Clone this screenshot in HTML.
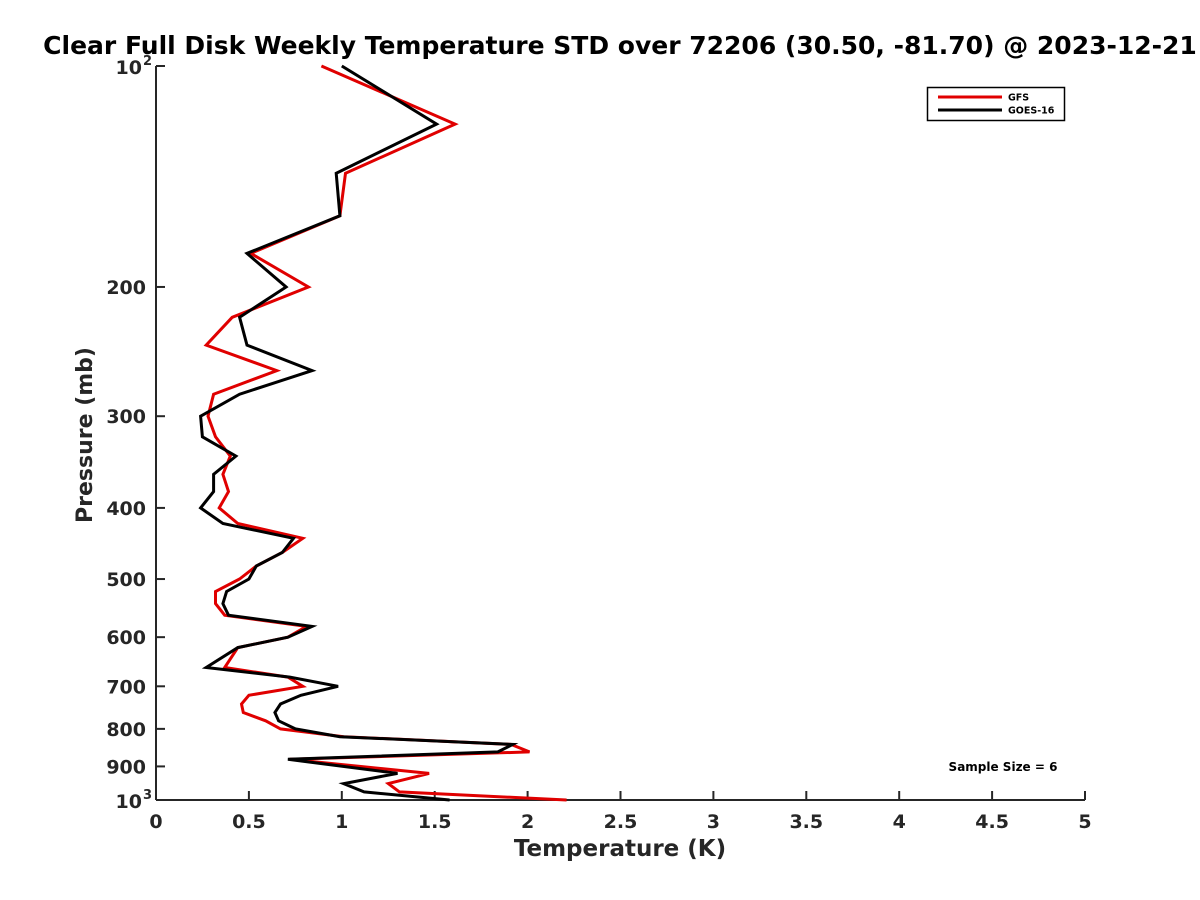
<!DOCTYPE html>
<html><head><meta charset="utf-8"><style>
html,body{margin:0;padding:0;background:#fff;overflow:hidden;}
svg{display:block;font-family:"DejaVu Sans","Liberation Sans",sans-serif;}
</style></head><body>
<svg id="chart" width="1200" height="900" viewBox="0 0 1200 900">
<text x="620" y="54" text-anchor="middle" font-size="25" font-weight="bold" fill="#000">Clear Full Disk Weekly Temperature STD over 72206 (30.50, -81.70) @ 2023-12-21</text>
<g id="axes"></g>
<g id="series"></g>
<g>
<rect x="927.5" y="87.5" width="137" height="33" fill="#fff" stroke="#000" stroke-width="1.5"/>
<line x1="938" y1="97" x2="1002" y2="97" stroke="#e00000" stroke-width="3"/>
<text x="1008" y="100.5" font-size="9.5" font-weight="bold">GFS</text>
<line x1="938" y1="110" x2="1002" y2="110" stroke="#000" stroke-width="3"/>
<text x="1008" y="113.5" font-size="9.5" font-weight="bold">GOES-16</text>
</g>
<text x="1003" y="771" text-anchor="middle" font-size="12" font-weight="bold">Sample Size = 6</text>
<text x="620" y="856" text-anchor="middle" font-size="23" font-weight="bold" fill="#262626">Temperature (K)</text>
<text transform="translate(92,435) rotate(-90)" text-anchor="middle" font-size="22" font-weight="bold" fill="#262626">Pressure (mb)</text>
</svg>
<script>
const pressures=[100,120,140,160,180,200,220,240,260,280,300,320,340,360,380,400,420,440,460,480,500,520,540,560,580,600,620,660,680,700,720,740,760,780,800,820,840,860,880,920,950,975,1000];
const gfsStd=[0.89,1.61,1.02,0.99,0.51,0.82,0.41,0.27,0.65,0.31,0.28,0.32,0.40,0.36,0.39,0.34,0.44,0.79,0.68,0.54,0.45,0.32,0.32,0.37,0.81,0.71,0.44,0.37,0.71,0.79,0.50,0.46,0.47,0.59,0.67,1.01,1.91,2.01,0.72,1.47,1.25,1.31,2.21];
const goesStd=[1.00,1.51,0.97,0.99,0.49,0.70,0.45,0.49,0.84,0.45,0.24,0.25,0.43,0.31,0.31,0.24,0.36,0.74,0.68,0.54,0.50,0.38,0.36,0.39,0.84,0.71,0.44,0.27,0.72,0.98,0.78,0.67,0.64,0.66,0.75,0.99,1.92,1.84,0.71,1.30,1.01,1.12,1.58];
const xTicks=[0,0.5,1,1.5,2,2.5,3,3.5,4,4.5,5];
const xTickLabels=["0","0.5","1","1.5","2","2.5","3","3.5","4","4.5","5"];
const yTicks=[200,300,400,500,600,700,800,900];
const NS="http://www.w3.org/2000/svg";
const L=156,R=1085,T=66,B=800;
function xs(v){return L+(v-0)/(5-0)*(R-L);}
function ys(p){return T+(Math.log10(p)-2)*(B-T);}
function mk(tag,attrs,parent){const e=document.createElementNS(NS,tag);for(const k in attrs)e.setAttribute(k,attrs[k]);parent.appendChild(e);return e;}
const ax=document.getElementById('axes');
let a=mk('line',{x1:L,y1:T,x2:L,y2:B,stroke:'#262626','stroke-width':2},ax);


a=mk('line',{x1:L,y1:B,x2:R,y2:B,stroke:'#262626','stroke-width':2},ax);


xTicks.forEach((v,i)=>{
 const t=mk('line',{x1:xs(v),y1:B,x2:xs(v),y2:B-9,stroke:'#262626','stroke-width':2},ax);
 
 
 const tx=mk('text',{x:xs(v),y:B+28,'text-anchor':'middle','font-size':19,'font-weight':'bold',fill:'#262626'},ax);
 tx.textContent=xTickLabels[i];
 
 
});
[100,1000].concat(yTicks).forEach(p=>{
 const t=mk('line',{x1:L,y1:ys(p),x2:L+9,y2:ys(p),stroke:'#262626','stroke-width':2},ax);
 
 
});
yTicks.forEach(p=>{
 const tx=mk('text',{x:L-10,y:ys(p)+7,'text-anchor':'end','font-size':19,'font-weight':'bold',fill:'#262626'},ax);
 tx.textContent=String(p);
 
 
});
[[100,'2'],[1000,'3']].forEach(([p,e])=>{
 const tx=mk('text',{x:L-14,y:ys(p)+8,'text-anchor':'end','font-size':19,'font-weight':'bold',fill:'#262626'},ax);
 tx.textContent='10';
 
 
 const sp=mk('text',{x:L-13,y:ys(p)-1,'font-size':13,'font-weight':'bold',fill:'#262626'},ax);
 sp.textContent=e;
 
 
});
const sg=document.getElementById('series');
function line(vals,color,name){
 const pts=vals.map((v,i)=>xs(v).toFixed(1)+','+ys(pressures[i]).toFixed(1)).join(' ');
 const pl=mk('polyline',{points:pts,fill:'none',stroke:color,'stroke-width':3,'stroke-linejoin':'miter'},sg);
 
 
}
line(gfsStd,'#e00000','gfs-line');
line(goesStd,'#000000','goes-16-line');
</script>
</body></html>
